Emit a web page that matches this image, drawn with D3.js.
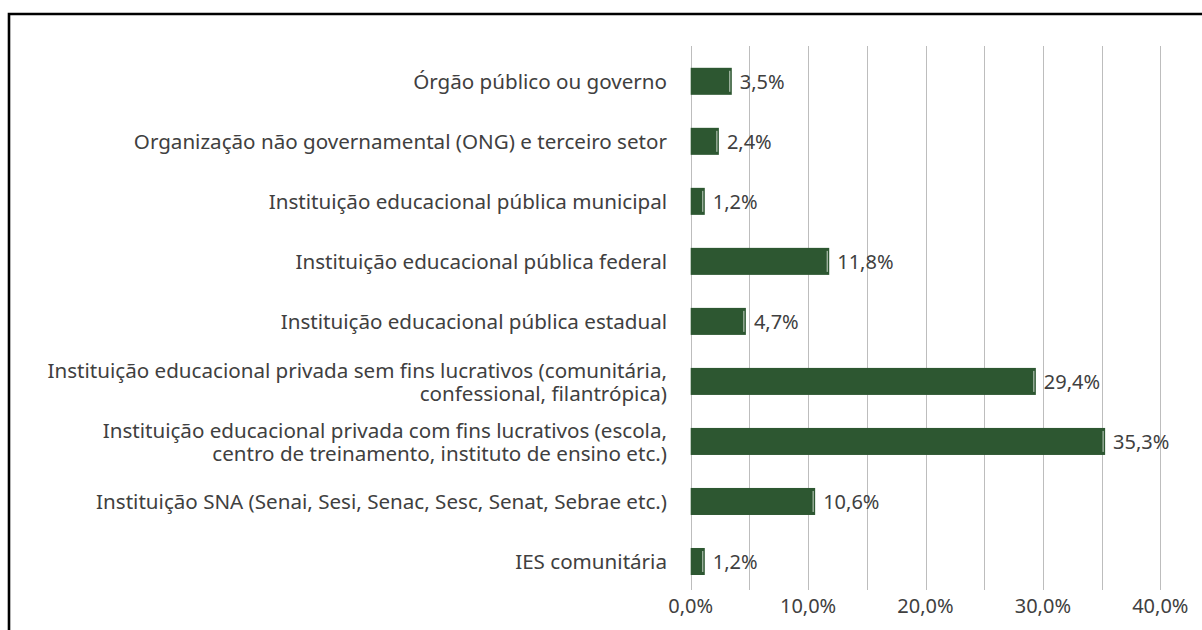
<!DOCTYPE html>
<html>
<head>
<meta charset="utf-8">
<script src="https://cdn.jsdelivr.net/npm/d3@7"></script>
<style>
  html, body { margin: 0; padding: 0; background: #fff; }
  svg { display: block; }
  text { font-family: "Noto Sans", "Open Sans", sans-serif; }
</style>
</head>
<body>
<svg id="chart" width="1202" height="630"></svg>
<script>
// Categories, top to bottom; "\n" marks a line break in the label
const categories = [
  "Órgão público ou governo",
  "Organização não governamental (ONG) e terceiro setor",
  "Instituição educacional pública municipal",
  "Instituição educacional pública federal",
  "Instituição educacional pública estadual",
  "Instituição educacional privada sem fins lucrativos (comunitária,\nconfessional, filantrópica)",
  "Instituição educacional privada com fins lucrativos (escola,\ncentro de treinamento, instituto de ensino etc.)",
  "Instituição SNA (Senai, Sesi, Senac, Sesc, Senat, Sebrae etc.)",
  "IES comunitária"
];
// Share of respondents, in percent
const values = [3.5, 2.4, 1.2, 11.8, 4.7, 29.4, 35.3, 10.6, 1.2];
// Axis ticks (labelled) and gridlines
const tickValues = [0, 10, 20, 30, 40];
const gridValues = [0, 5, 10, 15, 20, 25, 30, 35, 40];

const fmt = v => d3.format(".1f")(v).replace(".", ",") + "%";

const svg = d3.select("#chart");
const W = 1202, H = 630;

const barColor = "#2d5731";
const textColor = "#404040";
const catFont = 20.6;
const numFont = 20;

const x = d3.scaleLinear().domain([0, 40]).range([690.7, 1160.3]);
const y = d3.scaleBand()
  .domain(categories)
  .range([51.3, 591.5])
  .paddingInner(0.55)
  .paddingOuter(0.275);

const gridTop = 46, gridBottom = 590;

// Frame
svg.append("path")
  .attr("d", `M9,${H} L9,14 L${W},14`)
  .attr("fill", "none")
  .attr("stroke", "#000")
  .attr("stroke-width", 2.6);

// Vertical gridlines
svg.append("g")
  .selectAll("line")
  .data(gridValues)
  .join("line")
  .attr("x1", d => Math.round(x(d)) + 0.5)
  .attr("x2", d => Math.round(x(d)) + 0.5)
  .attr("y1", gridTop)
  .attr("y2", gridBottom)
  .attr("stroke", "#bdbdbd")
  .attr("stroke-width", 1);

// Bars
const bars = svg.append("g");
bars.selectAll("rect")
  .data(values)
  .join("rect")
  .attr("x", x(0))
  .attr("y", (d, i) => y(categories[i]))
  .attr("width", d => x(d) - x(0))
  .attr("height", y.bandwidth())
  .attr("fill", barColor);

// Thin light seam near each bar's end
bars.selectAll("line")
  .data(values)
  .join("line")
  .attr("x1", d => x(d) - 2)
  .attr("x2", d => x(d) - 2)
  .attr("y1", (d, i) => y(categories[i]) + 3)
  .attr("y2", (d, i) => y(categories[i]) + y.bandwidth() - 3)
  .attr("stroke", "#c8d4c8")
  .attr("stroke-width", 1);

// Value labels
svg.append("g")
  .selectAll("text")
  .data(values)
  .join("text")
  .attr("x", d => x(d) + 8)
  .attr("y", (d, i) => y(categories[i]) + y.bandwidth() / 2 + 7.5)
  .attr("font-size", numFont)
  .attr("fill", textColor)
  .text(d => fmt(d));

// Category labels (right-aligned, multi-line centred on the bar)
const lineH = 23.5;
const catG = svg.append("g");
categories.forEach(c => {
  const lines = c.split("\n");
  const cy = y(c) + y.bandwidth() / 2;
  const t = catG.append("text")
    .attr("text-anchor", "end")
    .attr("font-size", catFont)
    .attr("fill", textColor);
  lines.forEach((ln, k) => {
    t.append("tspan")
      .attr("x", 667)
      .attr("y", cy + 8 + (k - (lines.length - 1) / 2) * lineH)
      .text(ln);
  });
});

// X axis tick labels
svg.append("g")
  .selectAll("text")
  .data(tickValues)
  .join("text")
  .attr("x", d => x(d))
  .attr("y", 613)
  .attr("text-anchor", "middle")
  .attr("font-size", numFont)
  .attr("fill", textColor)
  .text(d => fmt(d));
</script>
</body>
</html>
